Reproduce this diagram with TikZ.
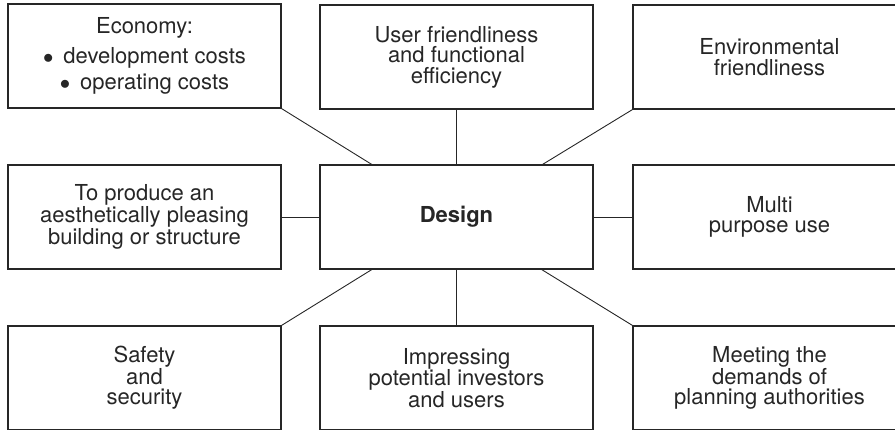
\documentclass[tikz,border=0pt]{standalone}
\usepackage{fontspec}
\setmainfont{TeX Gyre Heros}
\usetikzlibrary{positioning,calc}

\newcommand{\dotitem}{$\bullet$\hspace{0.45em}}

\begin{document}
\begin{tikzpicture}[x=1pt, y=-1pt,
  every box/.style={draw=black!85, line width=1.2pt, minimum width=273pt, minimum height=104pt,
    inner sep=0pt, align=center, text=black!85, font=\fontsize{22}{20.5}\selectfont},
  link/.style={draw=black!85, line width=0.9pt}]

\useasboundingbox (0,0) rectangle (895,429);

% centre box
\node [every box/.try] (design) at (456.5,217) {\bfseries Design};

% boxes round it
\node [every box/.try] (econ) at (144.5,56)
  {Economy:\\[8pt] \dotitem development costs\\[5pt] \dotitem operating costs};
\node [every box/.try] (user) at (456.5,57) {User friendliness\\and functional\\efficiency};
\node [every box/.try] (env) at (769.5,57) {Environmental\\friendliness};

\node [every box/.try] (aesth) at (144.5,217) {To produce an\\aesthetically pleasing\\building or structure};
\node [every box/.try] (multi) at (769.5,217) {Multi\\purpose use};

\node [every box/.try] (safety) at (144.5,378) {Safety\\and\\security};
\node [every box/.try] (invest) at (456.5,378) {Impressing\\potential investors\\and users};
\node [every box/.try] (plan) at (769.5,378) {Meeting the\\demands of\\planning authorities};

% spokes to the centre
\foreach \a in {econ.south east, user, env.south west, aesth, multi, safety.north east, invest, plan.north west}
  \draw [link] (\a) -- (design);

\end{tikzpicture}
\end{document}
